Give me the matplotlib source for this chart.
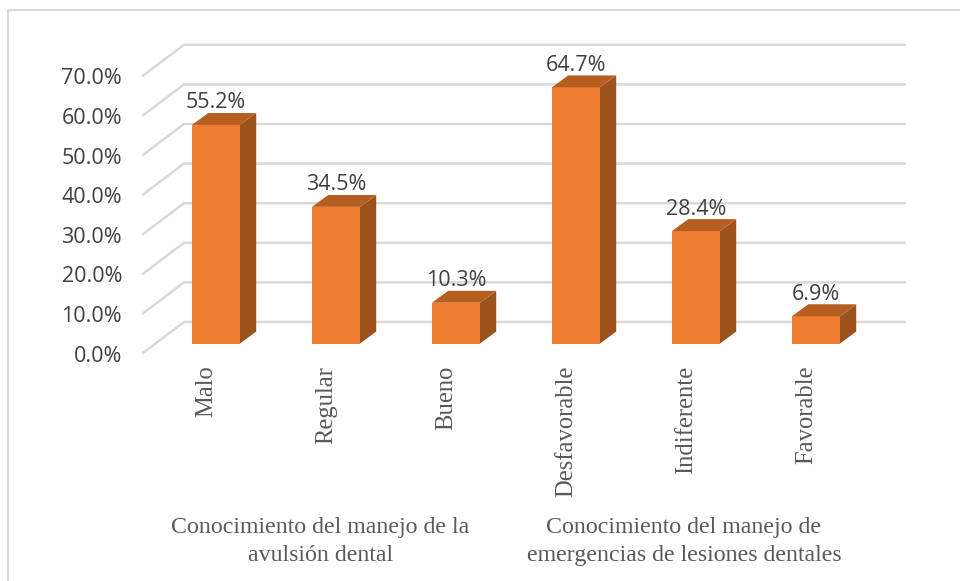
import matplotlib
matplotlib.use("Agg")
import matplotlib.pyplot as plt
from matplotlib.lines import Line2D

categories = ["Malo", "Regular", "Bueno", "Desfavorable", "Indiferente", "Favorable"]
values = [55.2, 34.5, 10.3, 64.7, 28.4, 6.9]
ticks = [0, 10, 20, 30, 40, 50, 60, 70]
tick_labels = ["0.0%", "10.0%", "20.0%", "30.0%", "40.0%", "50.0%", "60.0%", "70.0%"]
group_labels = ["Conocimiento del manejo de la\navulsión dental",
                "Conocimiento del manejo de\nemergencias de lesiones dentales"]

# pseudo 3d offsets, in data units
bar_w = 0.4
dep_x = 0.135
dep_y = 3.0
wall_x0 = -0.608
wall_x1 = -0.267
wall_x2 = 5.74
wall_front = -2.37
wall_back = 5.43

SANS = "Open Sans"
SERIF = "Liberation Serif"

fig = plt.figure(figsize=(9.6, 5.81), dpi=100)
ax = fig.add_axes([0, 0, 1, 1])
ax.set_xlim(-1.8, 6.2)
ax.set_ylim(-59.97, 86.74)
ax.axis("off")

# gridlines on floor/back wall
for t in ticks:
    ax.plot([wall_x0, wall_x1, wall_x2], [t + wall_front, t + wall_back, t + wall_back],
            color="#d9d9d9", lw=1.8, solid_joinstyle="miter", zorder=1)

# bars
for i, v in enumerate(values):
    l, r = i - bar_w / 2, i + bar_w / 2
    ax.fill([l, r, r, l], [0, 0, v, v], color="#ed7d31", lw=0, zorder=3)
    ax.fill([r, r + dep_x, r + dep_x, r], [0, dep_y, v + dep_y, v], color="#9c521c", lw=0, zorder=3)
    ax.fill([l, r, r + dep_x, l + dep_x], [v, v, v + dep_y, v + dep_y], color="#b65d20", lw=0, zorder=3)
    ax.text(i, v + dep_y - 0.1, f"{v:.1f}%", ha="center", va="bottom", fontsize=15.5,
            family=SANS, color="#404040", zorder=4)
    ax.text(i - 0.08, -5.6, categories[i], rotation=90, ha="center", va="top", fontsize=17.7,
            family=SERIF, color="#595959")

for t, lab in zip(ticks, tick_labels):
    ax.text(-0.783, t + wall_front - 0.8, lab, ha="right", va="center", fontsize=15.5,
            family=SANS, color="#404040")

ax.text(0.87, -50.05, group_labels[0], ha="center", va="center", fontsize=17.2, linespacing=1.41,
        family=SERIF, color="#595959")
ax.text(3.9, -50.05, group_labels[1], ha="center", va="center", fontsize=17.2, linespacing=1.41,
        family=SERIF, color="#595959")

# chart frame
fig.add_artist(Line2D([7.5 / 960, 7.5 / 960, 1], [0, 1 - 9.5 / 581, 1 - 9.5 / 581],
                      color="#d9d9d9", lw=1.5))

fig.savefig("out.png", dpi=100)
